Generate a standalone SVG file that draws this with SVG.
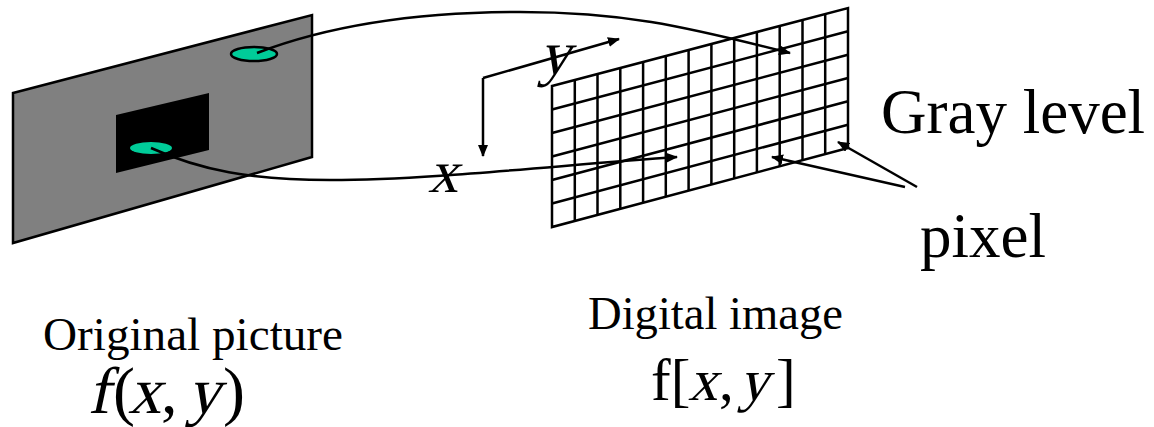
<svg xmlns="http://www.w3.org/2000/svg" width="1154" height="427" viewBox="0 0 1154 427">
<style>
.ln{fill:none;stroke:#000;stroke-width:2.5}
.t{font-family:"Liberation Serif","Times New Roman",serif;fill:#000}
</style>
<defs>
<marker id="ah" viewBox="0 0 12 10" refX="11" refY="5" markerWidth="12" markerHeight="10" markerUnits="userSpaceOnUse" orient="auto">
<path d="M0,0 L12,5 L0,10 z" fill="#000"/>
</marker>
</defs>
<rect width="1154" height="427" fill="#fff"/>
<g id="original-picture">
<polygon points="13,93 312,15 312,157 13,243" fill="#808080" stroke="#000" stroke-width="2.5"/>
<polygon points="116,115 209,93 209,150 116,173" fill="#000"/>
<ellipse cx="254" cy="54" rx="23" ry="7" fill="#00CC99" stroke="#000" stroke-width="2.5"/>
<ellipse cx="151" cy="148" rx="21" ry="6" fill="#00CC99"/>
</g>
<g id="digital-image" class="ln" stroke-width="2.5">
<polygon points="552,86 848,8 848,148 552,227"/>
<path d="M574.8,80 V221 M597.5,74 V215 M620.3,68 V209 M643.1,62 V203 M665.8,56 V197 M688.6,50 V191 M711.4,44 V185 M734.2,38 V179 M756.9,32 V173 M779.7,26 V167 M802.5,20 V161 M825.2,14 V154"/>
<path d="M552,109.5 L848,31.3 M552,133 L848,54.7 M552,156.5 L848,78 M552,180 L848,101.3 M552,203.5 L848,124.7"/>
</g>
<g id="connectors" class="ln">
<path d="M257,53 C330,25 420,12 520,12 C620,12 680,25 790,53" marker-end="url(#ah)"/>
<path d="M151,148 C200,170 250,180 330,180 C430,180 560,165 677,157" marker-end="url(#ah)"/>
<path d="M483,78 L619,39" marker-end="url(#ah)"/>
<path d="M483,78 L483,156" marker-end="url(#ah)"/>
<path d="M905,187 L772,157" marker-end="url(#ah)"/>
<path d="M917,187 L838,142" marker-end="url(#ah)"/>
</g>
<g id="labels">
<text class="t" transform="translate(539,74) skewX(-14)" font-size="62">y</text>
<text class="t" transform="translate(428,192) skewX(-14)" font-size="60">x</text>
<text class="t" x="881" y="133" font-size="63">Gray level</text>
<text class="t" x="920" y="257" font-size="63">pixel</text>
<text class="t" x="43" y="350" font-size="46" textLength="300" lengthAdjust="spacingAndGlyphs">Original picture</text>
<g id="f-xy" class="t" font-size="66">
<text transform="translate(88,413) skewX(-12)">f</text>
<text x="113" y="413">(</text>
<text transform="translate(128,413) skewX(-14)">x</text>
<text x="161" y="413">,</text>
<text transform="translate(187,413) skewX(-14)">y</text>
<text x="223" y="413">)</text>
</g>
<text class="t" x="588" y="329" font-size="46" textLength="255" lengthAdjust="spacingAndGlyphs">Digital image</text>
<g id="f-brackets" class="t" font-size="59">
<text x="651" y="400">f[</text>
<text transform="translate(688,400) skewX(-14)">x</text>
<text x="719" y="400">,</text>
<text transform="translate(739,400) skewX(-14)">y</text>
<text x="776" y="400">]</text>
</g>
</g>
</svg>
